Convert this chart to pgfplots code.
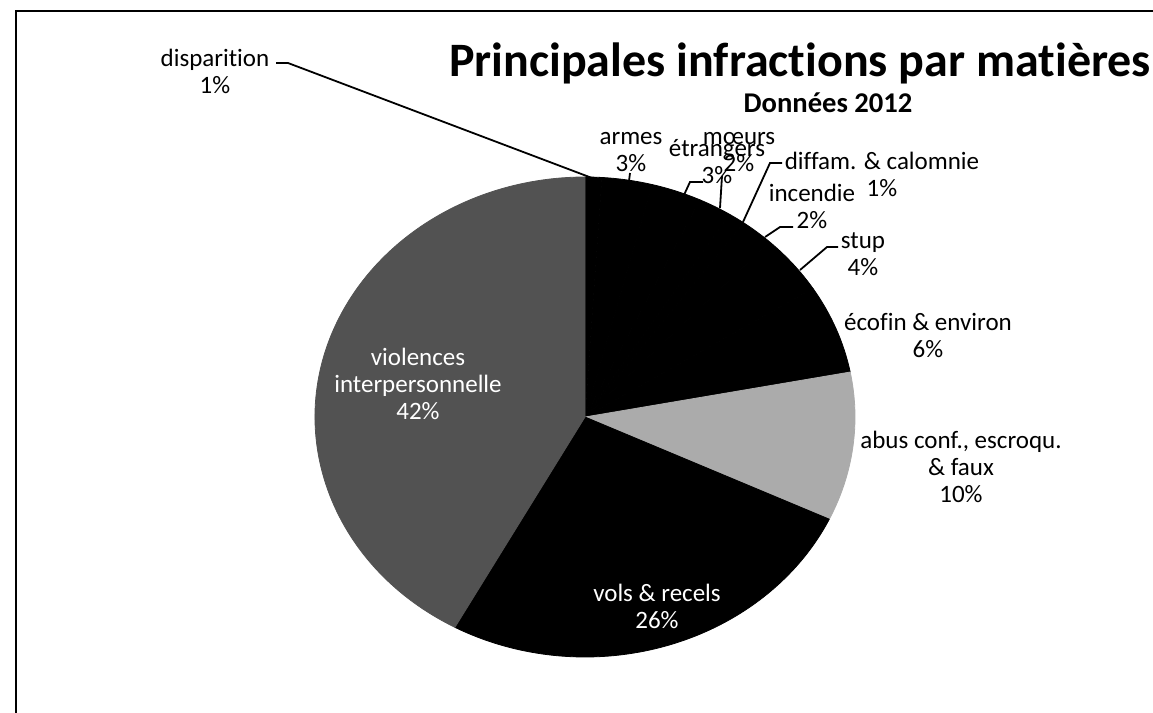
\documentclass[border=0pt]{standalone}
\usepackage{fontspec}
\setmainfont{Carlito}[Ligatures=NoCommon]
\usepackage{pgfplots}
\usepackage{pgfplotstable}
\pgfplotsset{compat=1.18}

% Shares (%) of each category, clockwise from 12 o'clock, with the grey level of each slice
\pgfplotstableread{
share shade
1  100
3  100
3  100
2  100
1  100
2  100
4  100
6  100
10 33
26 100
42 68
}\slices

\newcommand\lbl{\fontsize{12.5}{13.5}\selectfont}

\begin{document}
\begin{tikzpicture}
\begin{axis}[
  width=576.5pt, height=356.5pt, scale only axis,
  xmin=0, xmax=1153, ymin=0, ymax=713, y dir=reverse,
  hide axis, clip=false,
]
% pie slices, centre (585,417), radii 270 x 240 units
\pgfplotsextra{
  \pgfplotstablegetrowsof{\slices}
  \pgfmathtruncatemacro{\nlast}{\pgfplotsretval-1}
  \gdef\cum{0}
  \foreach \i in {0,...,\nlast}{
    \pgfplotstablegetelem{\i}{share}\of\slices \let\share\pgfplotsretval
    \pgfplotstablegetelem{\i}{shade}\of\slices \let\shade\pgfplotsretval
    \pgfmathsetmacro{\aone}{90-3.6*\cum}
    \pgfmathsetmacro{\atwo}{90-3.6*(\cum+\share)}
    \filldraw[fill=black!\shade, draw=black!\shade, line width=0.4pt, line join=round]
      (axis cs:585,417) -- ++({135pt*cos(\aone)},{120pt*sin(\aone)})
      arc[start angle=\aone, end angle=\atwo, x radius=135pt, y radius=120pt] -- cycle;
    \pgfmathsetmacro{\newcum}{\cum+\share}
    \global\let\cum\newcum
  }
}

% frame
\draw[line width=1pt] (axis cs:16,713) -- (axis cs:16,11) -- (axis cs:1153,11);

% titles
\node[font=\fontsize{24}{28}\selectfont\bfseries] at (axis cs:800,63) {Principales infractions par matières};
\node[font=\fontsize{14.3}{17}\selectfont\bfseries] at (axis cs:828,103) {Données 2012};

% leader lines
\begin{scope}[line width=0.9pt]
\draw (axis cs:276,63) -- (axis cs:288,63) -- (axis cs:592,178);
\draw (axis cs:630,173) -- (axis cs:629,181);
\draw (axis cs:703,182) -- (axis cs:690,182) -- (axis cs:684,195);
\draw (axis cs:722,176) -- (axis cs:720,208);
\draw (axis cs:782,163) -- (axis cs:770,163) -- (axis cs:743,222);
\draw (axis cs:793,227) -- (axis cs:780,227) -- (axis cs:765,237);
\draw (axis cs:838,247) -- (axis cs:827,247) -- (axis cs:800,270);
\end{scope}

% data labels
\begin{scope}[every node/.style={font=\lbl, align=center, inner sep=0pt}]
\node at (axis cs:215,71)  {disparition\\1\%};
\node at (axis cs:631,152) {armes\\3\%};
\node at (axis cs:717,162) {étrangers\\3\%};
\node at (axis cs:739,152) {mœurs\\2\%};
\node at (axis cs:882,174) {diffam. \& calomnie\\1\%};
\node at (axis cs:812,206) {incendie\\2\%};
\node at (axis cs:863,254) {stup\\4\%};
\node at (axis cs:928,335) {écofin \& environ\\6\%};
\node at (axis cs:961,467) {abus conf., escroqu.\\\& faux\\10\%};
\node[text=white] at (axis cs:418,384) {violences\\interpersonnelle\\42\%};
\node[text=white] at (axis cs:657,606) {vols \& recels\\26\%};
\end{scope}
\end{axis}
\pgfresetboundingbox
\useasboundingbox (current axis.south west) rectangle (current axis.north east);
\end{tikzpicture}
\end{document}
